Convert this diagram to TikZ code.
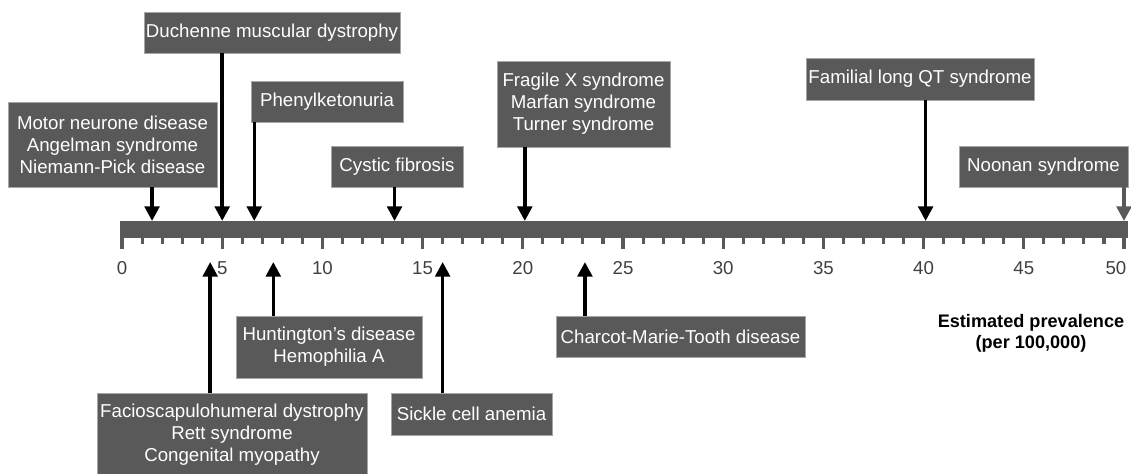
\documentclass[tikz,border=0pt]{standalone}
\usepackage{fontspec}
\setmainfont{Liberation Sans}
\usetikzlibrary{arrows.meta}
\definecolor{boxgray}{HTML}{595959}
\definecolor{edgegray}{HTML}{A6A6A6}
\definecolor{numgray}{HTML}{404040}

\begin{document}
\begin{tikzpicture}[
    x=0.75pt, y=-0.75pt,
    box/.style={draw=edgegray, line width=0.6pt, fill=boxgray, text=white, align=center, inner sep=0pt,
        font=\fontsize{14}{16.5}\selectfont},
    num/.style={font=\fontsize{14}{16.5}\selectfont, text=numgray},
    arrow/.style={-{Triangle[length=11pt, width=11pt]}, line width=2.6pt},
    tick/.style={boxgray, line width=2.3pt}
]
\useasboundingbox (0,0) rectangle (1131,474);

% Axis
\fill[boxgray] (120,221) rectangle (1128,238);
\foreach \i in {0,...,50}
    \draw[tick] ({122+20.04*\i},238) -- ++(0,6);
\foreach \i in {0,5,...,50}
    \draw[tick] ({122+20.04*\i},238) -- ++(0,11);
\foreach \i in {0,5,...,45}
    \node[num] (n\i) at ({122+20.04*\i},268) {\i};
\node[num, anchor=east] (n50) at (1131,268) {50};
\node[font=\fontsize{13.6}{15.8}\selectfont\bfseries, align=center] (title) at (1031,333)
    {Estimated prevalence\\(per 100,000)};

% Points on the axis
\coordinate (pMotor) at ({122+20.04*1.5},221);
\coordinate (pDuch) at ({122+20.04*5},221);
\coordinate (pPhen) at ({122+20.04*6.6},221);
\coordinate (pCyst) at ({122+20.04*13.6},221);
\coordinate (pFrag) at ({122+20.04*20.1},221);
\coordinate (pFam) at ({122+20.04*40.1},221);
\coordinate (pNoon) at ({122+20.04*50},221);
\coordinate (pFacio) at ({122+20.04*4.4},262);
\coordinate (pHunt) at ({122+20.04*7.55},262);
\coordinate (pSick) at ({122+20.04*16},262);
\coordinate (pCharc) at ({122+20.04*23.1},262);

% Above the axis
\node[box, minimum width=156.75pt, minimum height=63.75pt] (motor) at (112.5,144.5)
    {Motor neurone disease\\Angelman syndrome\\Niemann-Pick disease};
\node[box, minimum width=192pt, minimum height=30.75pt] (duch) at (272,32.5)
    {Duchenne muscular dystrophy};
\node[box, minimum width=114pt, minimum height=30.75pt] (phen) at (327,101.5)
    {Phenylketonuria};
\node[box, minimum width=99pt, minimum height=30.75pt] (cyst) at (397,166.5)
    {Cystic fibrosis};
\node[box, minimum width=129.75pt, minimum height=64.5pt] (frag) at (583.5,104)
    {Fragile X syndrome\\Marfan syndrome\\Turner syndrome};
\node[box, minimum width=171pt, minimum height=31.5pt] (fam) at (920,79)
    {Familial long QT syndrome};
\node[box, minimum width=126.75pt, minimum height=30.75pt] (noon) at (1043.5,166.5)
    {Noonan syndrome};

% Below the axis
\node[box, minimum width=202.5pt, minimum height=62.25pt] (facio) at (232,434.5)
    {Facioscapulohumeral dystrophy\\Rett syndrome\\Congenital myopathy};
\node[box, minimum width=139.5pt, minimum height=46.5pt] (hunt) at (329,347)
    {Huntington’s disease\\Hemophilia A};
\node[box, minimum width=120.75pt, minimum height=31.5pt] (sick) at (471.5,414)
    {Sickle cell anemia};
\node[box, minimum width=186.75pt, minimum height=30.75pt] (charc) at (680.5,336.5)
    {Charcot-Marie-Tooth disease};

% Arrows
\draw[arrow] (motor.south -| pMotor) -- (pMotor);
\draw[arrow] (duch.south -| pDuch) -- (pDuch);
\draw[arrow] (phen.south -| pPhen) -- (pPhen);
\draw[arrow] (cyst.south -| pCyst) -- (pCyst);
\draw[arrow] (frag.south -| pFrag) -- (pFrag);
\draw[arrow] (fam.south -| pFam) -- (pFam);
\draw[arrow, boxgray] (noon.south -| pNoon) -- (pNoon);
\draw[arrow] (facio.north -| pFacio) -- (pFacio);
\draw[arrow] (hunt.north -| pHunt) -- (pHunt);
\draw[arrow] (sick.north -| pSick) -- (pSick);
\draw[arrow] (charc.north -| pCharc) -- (pCharc);
\end{tikzpicture}
\end{document}
